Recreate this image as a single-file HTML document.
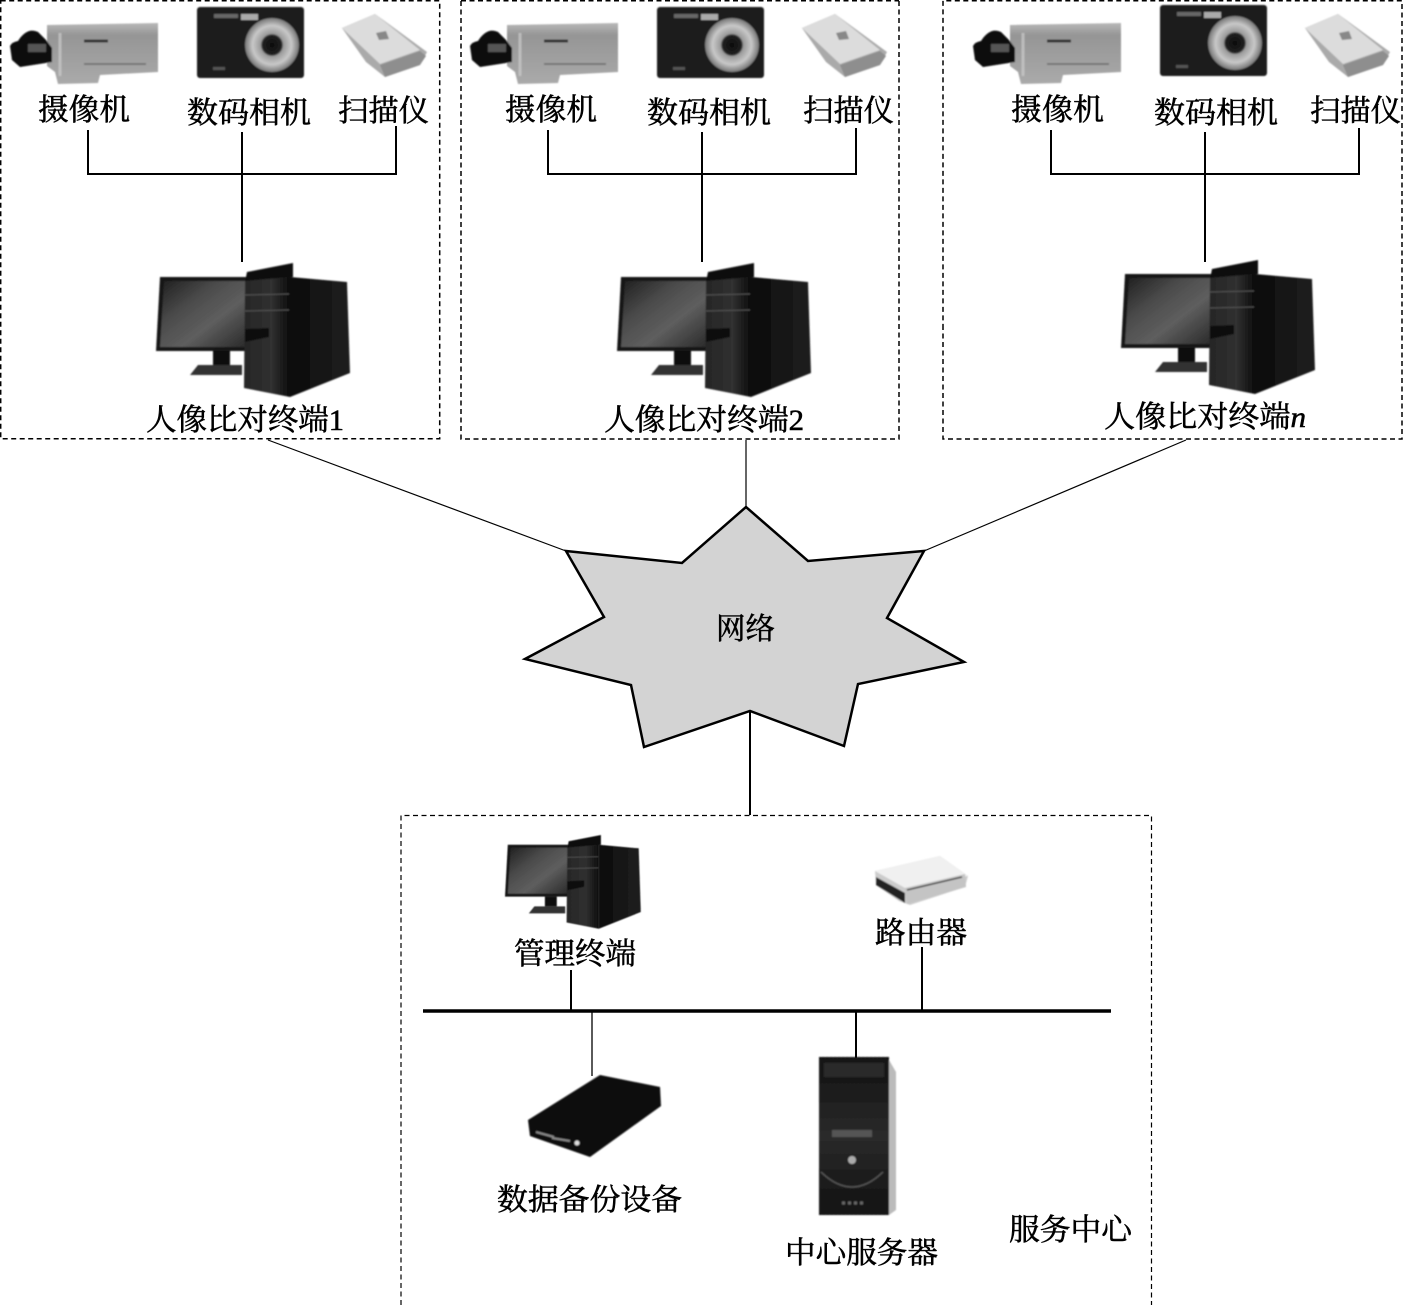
<!DOCTYPE html>
<html lang="zh"><head><meta charset="utf-8"><title>人像比对系统</title>
<style>
html,body{margin:0;padding:0;background:#fff}
svg{display:block}
text{font-family:"Liberation Serif","Noto Serif CJK SC",serif;font-size:30px;fill:#000;stroke:#000;stroke-width:.55}
.l{fill:none;stroke:#000;stroke-width:2}
.d{fill:none;stroke:#000;stroke-width:1.5;stroke-dasharray:5 3.5}
.b{filter:url(#bl)}
</style></head><body>
<svg width="1403" height="1305" viewBox="0 0 1403 1305" xmlns="http://www.w3.org/2000/svg">
<defs>
<filter id="bl" x="-5%" y="-5%" width="110%" height="110%"><feGaussianBlur stdDeviation=".7"/></filter>
<linearGradient id="sc" x1="0" y1="0" x2="1" y2="1"><stop offset="0" stop-color="#1f1f1f"/><stop offset=".35" stop-color="#4c4c4c"/><stop offset=".62" stop-color="#5e5e5e"/><stop offset="1" stop-color="#2a2a2a"/></linearGradient>
<linearGradient id="tf" x1="0" y1="0" x2="1" y2="0"><stop offset="0" stop-color="#262626"/><stop offset=".6" stop-color="#303030"/><stop offset="1" stop-color="#0c0c0c"/></linearGradient>
<linearGradient id="ts" x1="0" y1="0" x2="1" y2="0"><stop offset="0" stop-color="#0a0a0a"/><stop offset="1" stop-color="#202020"/></linearGradient>
<linearGradient id="cb" x1="0" y1="0" x2="0" y2="1"><stop offset="0" stop-color="#b8b8b8"/><stop offset=".2" stop-color="#959595"/><stop offset="1" stop-color="#aaa"/></linearGradient>
<radialGradient id="ln"><stop offset="0" stop-color="#0c0c0c"/><stop offset=".36" stop-color="#222"/><stop offset=".42" stop-color="#999"/><stop offset=".72" stop-color="#c8c8c8"/><stop offset="1" stop-color="#777"/></radialGradient>
<linearGradient id="sv" x1="0" y1="0" x2="0" y2="1"><stop offset="0" stop-color="#111"/><stop offset=".5" stop-color="#2a2a2a"/><stop offset="1" stop-color="#111"/></linearGradient>

<g id="pc" class="b">
<path d="M160 277H246V351H156Z" fill="#151515"/>
<path d="M164 281H246V347H160Z" fill="url(#sc)"/>
<path d="M213 351h17v14h-17z" fill="#111"/>
<path d="M198 365h44v10h-52z" fill="#333"/>
<path d="M247 272L293 263V277L245 282Z" fill="#111"/>
<path d="M245 281L290 277V397L244 388Z" fill="url(#tf)"/>
<path d="M290 277L347 282L350 373L290 397Z" fill="url(#ts)"/>
<path d="M245 295l44-1M245 311l44-1" stroke="#555" stroke-width="1"/>
<path d="M245 329l24-1v9l-24 5z" fill="#0a0a0a"/>
</g>
<g id="cam" class="b">
<path d="M47 25L158 23V72L100 75L98 83L58 84L55 72L47 66Z" fill="url(#cb)"/>
<path d="M60 33V76" stroke="#ccc" stroke-width="3" opacity=".7"/>
<path d="M84 41h24" stroke="#333" stroke-width="3"/>
<path d="M84 64h62" stroke="#777" stroke-width="2"/>
<path d="M10 46Q12 42 18 41Q27 27 38 32L46 40L52 48V62L20 67L12 60Z" fill="#0b0b0b"/>
<rect x="28" y="44" width="18" height="8" fill="#555"/>
</g>
<g id="dig" class="b">
<rect x="197" y="7" width="107" height="71" rx="3" fill="#1f1f1f"/>
<rect x="214" y="14" width="24" height="4" fill="#666"/>
<rect x="241" y="14" width="17" height="6" fill="#aaa"/>
<circle cx="272" cy="45" r="27" fill="url(#ln)"/>
<rect x="213" y="67" width="12" height="3" fill="#555"/>
</g>
<g id="scan" class="b">
<path d="M342 28L375 14L427 52L420 65L385 77L366 62Z" fill="#aaa"/>
<path d="M342 28L375 14L420 50L380 64Z" fill="#dcdcdc"/>
<path d="M376 33l10-2 3 8-10 1z" fill="#888"/>
<path d="M380 65l40-14 6 5-6 9-35 12z" fill="#8e8e8e"/>
</g>
<g id="grp">
<use href="#cam"/><use href="#dig"/><use href="#scan"/>
</g>
</defs>

<rect class="d" x=".7" y=".7" width="439" height="438"/>
<path class="d" d="M461 1V439H899V1M461 .7H899"/>
<path class="d" d="M943 325V439H1402V.7H943V325"/>
<path class="d" style="stroke-width:1.2" d="M401 1305V815.5H1151.5V1305"/>

<use href="#grp"/>
<use href="#pc"/>
<use href="#grp" x="460"/>
<use href="#pc" x="461"/>
<use href="#cam" x="963"/><use href="#dig" x="963" y="-2"/><use href="#scan" x="963"/>
<use href="#pc" x="965" y="-3"/>

<path class="l" d="M88 130V174H396V126M242 132V262M548 130V174H856V128M702 132V262M1051 130V174H1359V128M1205 132V262"/>

<text x="38" y="120" textLength="92" lengthAdjust="spacingAndGlyphs">摄像机</text>
<text x="187" y="123" textLength="124" lengthAdjust="spacingAndGlyphs">数码相机</text>
<text x="338" y="121" textLength="91" lengthAdjust="spacingAndGlyphs">扫描仪</text>
<text x="505" y="120" textLength="92" lengthAdjust="spacingAndGlyphs">摄像机</text>
<text x="647" y="123" textLength="124" lengthAdjust="spacingAndGlyphs">数码相机</text>
<text x="803" y="121" textLength="91" lengthAdjust="spacingAndGlyphs">扫描仪</text>
<text x="1011" y="120" textLength="93" lengthAdjust="spacingAndGlyphs">摄像机</text>
<text x="1154" y="123" textLength="124" lengthAdjust="spacingAndGlyphs">数码相机</text>
<text x="1310" y="121" textLength="91" lengthAdjust="spacingAndGlyphs">扫描仪</text>
<text x="146" y="430" textLength="198" lengthAdjust="spacingAndGlyphs">人像比对终端1</text>
<text x="604" y="430" textLength="200" lengthAdjust="spacingAndGlyphs">人像比对终端2</text>
<text x="1104" y="427" textLength="202" lengthAdjust="spacingAndGlyphs">人像比对终端<tspan font-style="italic">n</tspan></text>

<path d="M268 440L566 551M746 440V507M1186 440L924 551" stroke="#000" stroke-width="1.2" fill="none"/>
<path d="M750 711V815" class="l"/>
<path d="M566 551L682 563L746 507L808 561L924 551L887 618L964 662L858 684L844 746L750 711L644 747L631 685L525 659L604 617Z" fill="#d3d3d3" stroke="#000" stroke-width="2.5" stroke-linejoin="miter"/>
<text x="716" y="639" textLength="59" lengthAdjust="spacingAndGlyphs">网络</text>

<use href="#pc" transform="translate(395.8 650.9) scale(.7)"/>
<text x="514" y="964" textLength="122" lengthAdjust="spacingAndGlyphs">管理终端</text>

<g class="b">
<path d="M875 871L940 856L968 876L965 887L910 905L899 901L876 885Z" fill="#ccc"/>
<path d="M875 871L940 856L968 876L905 888Z" fill="#f0f0f0"/>
<path d="M876 877L905 893V903L876 885Z" fill="#222"/>
<path d="M905 888L965 874L966 887L907 904Z" fill="#c4c4c4"/>
<path d="M907 890L962 877" stroke="#444" stroke-width="1.5"/>
</g>
<text x="875" y="943" textLength="92" lengthAdjust="spacingAndGlyphs">路由器</text>

<path d="M423 1011H1111" stroke="#000" stroke-width="3.6"/>
<path class="l" d="M571 970V1011M922 947V1011M856 1011V1058"/>
<path d="M592 1011V1076" stroke="#000" stroke-width="1.3"/>

<g class="b">
<path d="M528 1120L600 1075L660 1087L661 1106L590 1157L530 1136Z" fill="#0c0c0c"/>
<path d="M536 1132l18 5M552 1138l18 3" stroke="#888" stroke-width="2"/>
<circle cx="577" cy="1143" r="2.5" fill="#ddd"/>
</g>
<text x="497" y="1210" textLength="185" lengthAdjust="spacingAndGlyphs">数据备份设备</text>

<g class="b">
<path d="M889 1060L896 1072V1210L889 1215Z" fill="#bbb"/>
<rect x="819" y="1057" width="70" height="158" fill="url(#sv)"/>
<rect x="824" y="1063" width="60" height="14" fill="#2a2a2a"/>
<rect x="832" y="1130" width="40" height="7" fill="#555"/>
<circle cx="852" cy="1160" r="4" fill="#aaa"/>
<path d="M821 1172Q852 1202 883 1172" stroke="#555" stroke-width="1.5" fill="none"/>
<path d="M842 1203h22" stroke="#666" stroke-width="3" stroke-dasharray="3 3"/>
</g>
<text x="785" y="1263" textLength="153" lengthAdjust="spacingAndGlyphs">中心服务器</text>
<text x="1009" y="1240" textLength="123" lengthAdjust="spacingAndGlyphs">服务中心</text>
</svg>
</body></html>
